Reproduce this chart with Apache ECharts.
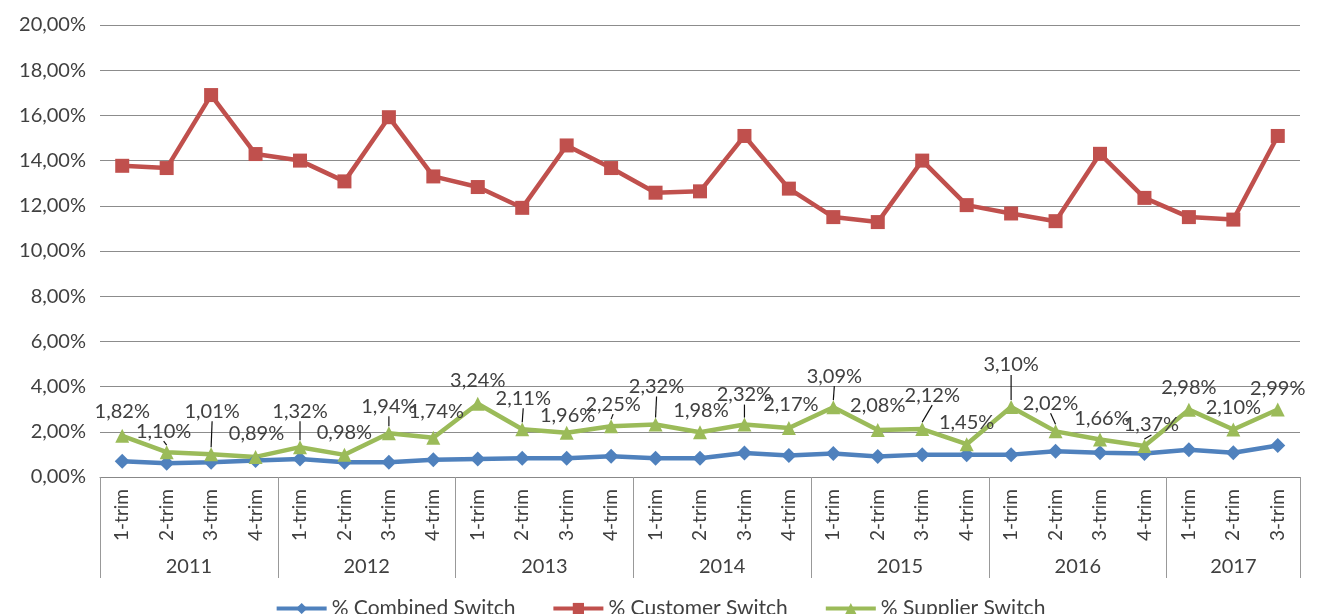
<!DOCTYPE html>
<html>
<head>
<meta charset="utf-8">
<script src="https://cdn.jsdelivr.net/npm/echarts@6/dist/echarts.min.js"></script>
<style>html,body{margin:0;padding:0;background:#fff;}#c{width:1320px;height:614px;}</style>
</head>
<body>
<div id="c"></div>
<script>
// ---- data ----
const years = ['2011','2012','2013','2014','2015','2016','2017'];
const quartersPerYear = [4,4,4,4,4,4,3];
const quarterNames = ['1-trim','2-trim','3-trim','4-trim'];
const combined = [0.70,0.61,0.65,0.73, 0.80,0.65,0.65,0.76, 0.80,0.83,0.83,0.92, 0.83,0.83,1.06,0.95, 1.04,0.91,0.99,0.99, 0.99,1.14,1.07,1.04, 1.21,1.07,1.39];
const customer = [13.77,13.67,16.90,14.29, 14.00,13.08,15.92,13.30, 12.83,11.91,14.67,13.67, 12.58,12.64,15.09,12.76, 11.50,11.28,14.00,12.03, 11.66,11.32,14.30,12.35, 11.50,11.39,15.09];
const supplier = [1.82,1.10,1.01,0.89, 1.32,0.98,1.94,1.74, 3.24,2.11,1.96,2.25, 2.32,1.98,2.32,2.17, 3.09,2.08,2.12,1.45, 3.10,2.02,1.66,1.37, 2.98,2.10,2.99];
const seriesNames = ['% Combined Switch','% Customer Switch','% Supplier Switch'];

// ---- label layout (not data) ----
const supplierLabelOffsets = [[0,-1],[-3,2],[1,-20],[1,0],[0,-13],[0,1],[0,-4],[3,-3],[0,0],[1,-8],[1,6],[2,1],[1,-15],[1,1],[0,-7],[2,0],[1,-8],[0,-1],[10,-11],[0,1],[0,-19],[-5,-5],[2,2],[7,2],[0,1],[0,1],[0,2]];
const supplierLeader = [0,1,1,0,1,0,1,0,0,1,0,1,1,0,1,0,1,0,1,0,1,1,0,1,0,0,0];

// build categories
const categories = [];
const yearCenterMap = {};
const boundaries = {};
let idx = 0;
years.forEach((y, i) => {
  boundaries[idx] = true;
  yearCenterMap[(idx + quartersPerYear[i] / 2).toFixed(1)] = y;
  for (let q = 0; q < quartersPerYear[i]; q++) { categories.push(y + '|' + quarterNames[q]); idx++; }
});
const totalQ = categories.length;

const FONT = 'Lato';
const fmt = v => v.toFixed(2).replace('.', ',') + '%';

const chart = echarts.init(document.getElementById('c'), null, {renderer: 'canvas'});
chart.setOption({
  animation: false,
  textStyle: {fontFamily: FONT},
  grid: {left: 100, right: 20, top: 25, bottom: 137, containLabel: false},
  legend: {
    data: seriesNames,
    top: 593, left: 'center',
    itemWidth: 50, itemHeight: 14, itemGap: 36,
    lineStyle: {width: 4},
    textStyle: {fontFamily: FONT, fontSize: 21, color: '#404040'}
  },
  xAxis: [{
    type: 'category', data: categories, boundaryGap: true,
    axisLine: {show: true, lineStyle: {color: '#888', width: 1}},
    axisTick: {show: true, length: 101, interval: (i) => !!boundaries[i], lineStyle: {color: '#999'}},
    axisLabel: {rotate: 90, interval: 0, margin: 12, fontFamily: FONT, fontSize: 19, color: '#404040',
      formatter: v => v.split('|')[1]},
    splitLine: {show: false}
  }, {
    type: 'value', min: 0, max: totalQ, interval: 0.5, position: 'bottom', offset: 80,
    axisLine: {show: false}, axisTick: {show: false}, splitLine: {show: false},
    axisLabel: {margin: 0, fontFamily: FONT, fontSize: 20, color: '#404040', showMinLabel: true, showMaxLabel: true,
      formatter: v => yearCenterMap[v.toFixed(1)] || ''}
  }],
  yAxis: {
    type: 'value', min: 0, max: 20, interval: 2,
    axisLine: {show: false}, axisTick: {show: false},
    splitLine: {lineStyle: {color: '#8c8c8c', width: 1}},
    axisLabel: {margin: 14, fontFamily: FONT, fontSize: 20, color: '#404040', formatter: fmt}
  },
  series: [{
    name: seriesNames[0], type: 'line', data: combined,
    symbol: 'diamond', symbolSize: 15,
    itemStyle: {color: '#4F81BD'}, lineStyle: {width: 4.5, color: '#4F81BD'}
  }, {
    name: seriesNames[1], type: 'line', data: customer,
    symbol: 'rect', symbolSize: 14,
    itemStyle: {color: '#C0504D'}, lineStyle: {width: 4.5, color: '#C0504D'}
  }, {
    name: seriesNames[2], type: 'line',
    data: supplier.map((v, i) => ({
      value: v,
      labelLine: {show: !!supplierLeader[i]}
    })),
    symbol: 'triangle', symbolSize: 14,
    itemStyle: {color: '#9BBB59'}, lineStyle: {width: 4.5, color: '#9BBB59'},
    label: {show: true, position: 'top', distance: 6, fontFamily: FONT, fontSize: 20, color: '#404040',
      formatter: p => fmt(p.value)},
    labelLine: {show: false, showAbove: true, lineStyle: {color: '#111', width: 1.2}},
    labelLayout: (p) => {
      const off = supplierLabelOffsets[p.dataIndex];
      return {dx: off[0], dy: off[1]};
    }
  }]
});
</script>
</body>
</html>
